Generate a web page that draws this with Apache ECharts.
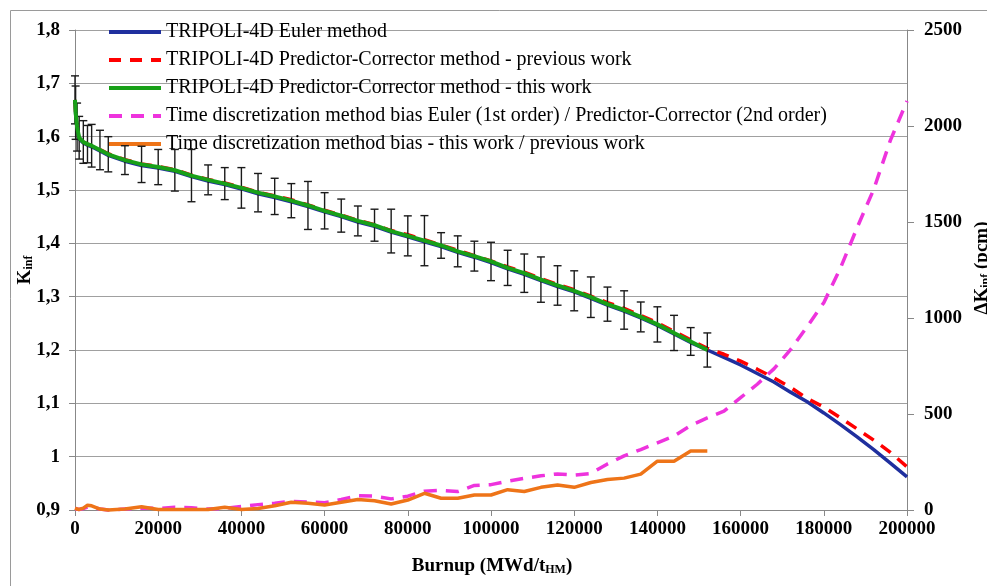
<!DOCTYPE html>
<html>
<head>
<meta charset="utf-8">
<script src="https://cdn.jsdelivr.net/npm/echarts@6/dist/echarts.min.js"></script>
<style>
html,body{margin:0;padding:0;background:#fff;}
#chart{width:987px;height:586px;}
</style>
</head>
<body>
<div id="chart"></div>
<script>
// Burnup points (MWd/tHM)
const burnup = [0,150,500,1000,2000,3000,4000,6000,8000,
  12000,16000,20000,24000,28000,32000,36000,40000,44000,48000,52000,56000,60000,
  64000,68000,72000,76000,80000,84000,88000,92000,96000,100000,104000,108000,112000,
  116000,120000,124000,128000,132000,136000,140000,144000,148000,152000,
  156000,160000,164000,168000,172000,176000,180000,184000,188000,192000,196000,200000];

// TRIPOLI-4D Predictor-Corrector - this work (to 152000)
const kPcThis = [1.669,1.645,1.618,1.598,1.590,1.586,1.583,1.575,1.567,
  1.556,1.548,1.543,1.537,1.527,1.519,1.512,1.504,1.495,1.488,1.480,1.471,1.461,
  1.452,1.442,1.434,1.423,1.414,1.405,1.396,1.385,1.376,1.366,1.354,1.344,1.332,
  1.321,1.311,1.299,1.286,1.275,1.262,1.248,1.232,1.216,1.200];

// error bars (half width) on this work
const kPcThisErr = [0.045,0.05,0.045,0.04,0.04,0.035,0.040,0.037,0.033,
  0.027,0.034,0.033,0.039,0.049,0.028,0.030,0.038,0.036,0.034,0.032,0.045,0.034,
  0.031,0.028,0.030,0.041,0.0375,0.047,0.024,0.029,0.028,0.036,0.033,0.036,0.0425,
  0.037,0.0375,0.038,0.032,0.036,0.028,0.033,0.033,0.026,0.032];

// TRIPOLI-4D Euler method
const kEuler = [1.668,1.643,1.616,1.596,1.588,1.584,1.581,1.573,1.565,
  1.554,1.546,1.541,1.535,1.525,1.517,1.510,1.502,1.493,1.486,1.478,1.469,1.459,
  1.450,1.440,1.432,1.421,1.412,1.403,1.394,1.383,1.374,1.364,1.352,1.342,1.330,
  1.319,1.309,1.297,1.284,1.273,1.260,1.246,1.230,1.214,1.200,
  1.186,1.172,1.156,1.140,1.121,1.103,1.082,1.060,1.037,1.013,0.988,0.962];

// TRIPOLI-4D Predictor-Corrector - previous work
const kPcPrev = [1.669,1.645,1.618,1.598,1.590,1.586,1.583,1.576,1.568,
  1.557,1.549,1.544,1.538,1.528,1.520,1.513,1.505,1.496,1.489,1.482,1.472,1.462,
  1.453,1.443,1.435,1.424,1.416,1.407,1.397,1.387,1.377,1.367,1.356,1.346,1.334,
  1.323,1.313,1.301,1.289,1.278,1.265,1.251,1.235,1.219,1.203,
  1.192,1.179,1.164,1.148,1.130,1.109,1.093,1.073,1.052,1.031,1.008,0.981];

// Bias Euler / Predictor-Corrector (pcm)
const biasEulerPc = [5,5,5,3,8,15,15,5,0,
  5,10,8,14,12,5,8,18,28,35,45,42,38,
  55,75,72,58,72,98,102,96,128,132,150,165,178,
  188,182,190,240,282,315,350,385,440,480,
  515,585,655,735,835,955,1080,1260,1470,1670,1925,2130];

// Bias this work / previous work (pcm)
const biasThisPrev = [10,5,5,3,10,25,22,5,0,
  5,17,3,2,2,3,14,3,8,22,40,35,26,
  40,55,48,31,52,87,61,61,78,78,106,96,118,
  130,118,143,159,166,187,254,254,307,307];

const names = [
  'TRIPOLI-4D Euler method',
  'TRIPOLI-4D Predictor-Corrector method - previous work',
  'TRIPOLI-4D Predictor-Corrector method - this work',
  'Time discretization method bias Euler (1st order) / Predictor-Corrector (2nd order)',
  'Time discretization method bias - this work / previous work'
];

const pairs = (vals) => vals.map((v, i) => [burnup[i], v]);
const errData = kPcThis.map((v, i) => [burnup[i], v, kPcThisErr[i]]);

const FONT = '"Liberation Serif", "Times New Roman", serif';
const chart = echarts.init(document.getElementById('chart'), null, {renderer: 'canvas'});

const option = {
  animation: false,
  backgroundColor: '#fff',
  grid: {left: 75, right: 80, top: 30, bottom: 76, containLabel: false},
  legend: {
    orient: 'vertical',
    left: 102, top: 17,
    itemWidth: 52, itemHeight: 14, itemGap: 8,
    data: names,
    itemStyle: {opacity: 0},
    lineStyle: {width: 4},
    textStyle: {fontFamily: FONT, fontSize: 20, color: '#000'}
  },
  xAxis: {
    type: 'value', min: 0, max: 200000, interval: 20000,
    axisLine: {show: true, lineStyle: {color: '#888', width: 1}},
    axisTick: {show: true, length: 6, lineStyle: {color: '#888'}},
    splitLine: {show: false},
    axisLabel: {fontFamily: FONT, fontSize: 19, fontWeight: 'bold', color: '#000', margin: 10,
      formatter: (v) => String(v)}
  },
  yAxis: [{
    type: 'value', min: 0.9, max: 1.8, interval: 0.1,
    axisLine: {show: true, lineStyle: {color: '#888', width: 1}},
    axisTick: {show: true, length: 6, lineStyle: {color: '#888'}},
    splitLine: {show: true, lineStyle: {color: '#a0a0a0', width: 1}},
    axisLabel: {fontFamily: FONT, fontSize: 19, fontWeight: 'bold', color: '#000', margin: 15,
      formatter: (v) => String(Math.round(v * 10) / 10).replace('.', ',')}
  }, {
    type: 'value', min: 0, max: 2500, interval: 500, position: 'right',
    axisLine: {show: true, lineStyle: {color: '#888', width: 1}},
    axisTick: {show: true, length: 7, lineStyle: {color: '#888'}},
    splitLine: {show: false},
    axisLabel: {fontFamily: FONT, fontSize: 19, fontWeight: 'bold', color: '#000', margin: 17,
      formatter: (v) => String(v)}
  }],
  series: [
    {name: names[0], type: 'line', yAxisIndex: 0, data: pairs(kEuler), showSymbol: false, symbol: 'none',
      lineStyle: {color: '#1f2f9e', width: 3.5}, itemStyle: {color: '#1f2f9e'}, z: 2},
    {name: names[1], type: 'line', yAxisIndex: 0, data: pairs(kPcPrev), showSymbol: false, symbol: 'none',
      lineStyle: {color: '#ff0000', width: 3.5, type: [12, 9]}, itemStyle: {color: '#ff0000'}, z: 3},
    {name: 'err', type: 'custom', yAxisIndex: 0, data: errData, z: 4,
      encode: {x: 0, y: 1},
      renderItem: function (params, api) {
        const x = api.value(0), y = api.value(1), e = api.value(2);
        const t = api.coord([x, y + e]);
        const b = api.coord([x, y - e]);
        const hw = 4;
        const st = {stroke: '#1a1a1a', lineWidth: 1.4};
        return {type: 'group', children: [
          {type: 'line', shape: {x1: t[0], y1: t[1], x2: b[0], y2: b[1]}, style: st},
          {type: 'line', shape: {x1: t[0] - hw, y1: t[1], x2: t[0] + hw, y2: t[1]}, style: st},
          {type: 'line', shape: {x1: b[0] - hw, y1: b[1], x2: b[0] + hw, y2: b[1]}, style: st}
        ]};
      }
    },
    {name: names[2], type: 'line', yAxisIndex: 0, data: pairs(kPcThis), showSymbol: false, symbol: 'none',
      lineStyle: {color: '#18a018', width: 4}, itemStyle: {color: '#18a018'}, z: 5},
    {name: names[3], type: 'line', yAxisIndex: 1, data: pairs(biasEulerPc), showSymbol: false, symbol: 'none', clip: false,
      lineStyle: {color: '#ee33dd', width: 3.5, type: [13, 9]}, itemStyle: {color: '#ee33dd'}, z: 6},
    {name: names[4], type: 'line', yAxisIndex: 1, data: pairs(biasThisPrev), showSymbol: false, symbol: 'none', clip: false,
      lineStyle: {color: '#ee7418', width: 3.5}, itemStyle: {color: '#ee7418'}, z: 7}
  ],
  graphic: [
    {type: 'rect', left: 8, top: 8, shape: {width: 1000, height: 600}, style: {fill: 'none', stroke: '#9a9a9a', lineWidth: 1}, silent: true, z: -1},
    {type: 'text', x: 492, y: 566, style: {
      text: '{a|Burnup (MWd/t}{s|HM}{a|)}', align: 'center', verticalAlign: 'middle',
      rich: {a: {fontFamily: FONT, fontSize: 19, fontWeight: 'bold', fill: '#000'},
             s: {fontFamily: FONT, fontSize: 12, fontWeight: 'bold', fill: '#000', padding: [8, 0, 0, 0]}}
    }},
    {type: 'text', x: 25, y: 270, rotation: Math.PI / 2, style: {
      text: '{a|K}{s|inf}', align: 'center', verticalAlign: 'middle',
      rich: {a: {fontFamily: FONT, fontSize: 19, fontWeight: 'bold', fill: '#000'},
             s: {fontFamily: FONT, fontSize: 12, fontWeight: 'bold', fill: '#000', padding: [8, 0, 0, 0]}}
    }},
    {type: 'text', x: 982, y: 268, rotation: Math.PI / 2, style: {
      text: '{a|ΔK}{s|inf}{a| (pcm)}', align: 'center', verticalAlign: 'middle',
      rich: {a: {fontFamily: FONT, fontSize: 19, fontWeight: 'bold', fill: '#000'},
             s: {fontFamily: FONT, fontSize: 12, fontWeight: 'bold', fill: '#000', padding: [8, 0, 0, 0]}}
    }}
  ]
};
chart.setOption(option);
</script>
</body>
</html>
